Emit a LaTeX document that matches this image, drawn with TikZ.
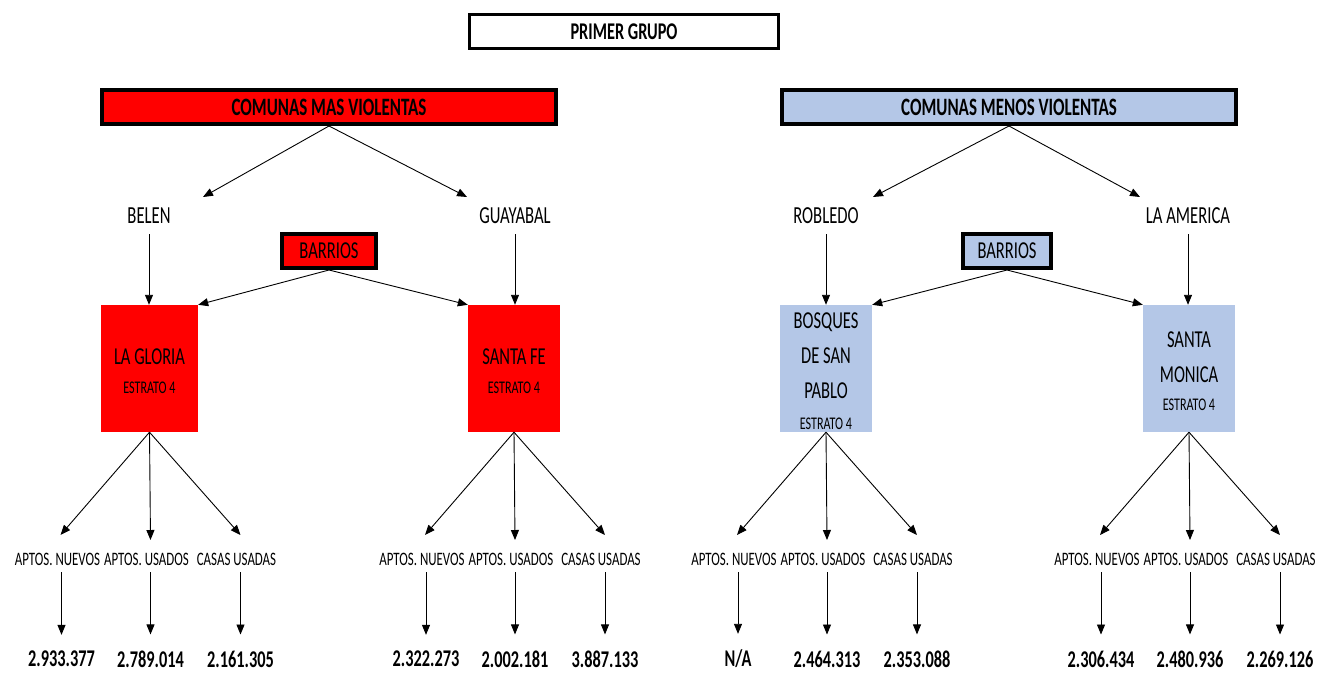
\documentclass[tikz,border=0pt]{standalone}
\usepackage{fontspec}
\setmainfont{Carlito}[FakeStretch=0.68]
\usetikzlibrary{arrows.meta}
\definecolor{rojo}{HTML}{FF0000}
\definecolor{azul}{HTML}{B4C7E7}
\newcommand{\fsize}[1]{\fontsize{#1}{#1}\selectfont}

\begin{document}
\begin{tikzpicture}[x=1pt, y=-1pt,
    flecha/.style={-{Triangle[length=10pt,width=8pt]}, line width=0.9pt},
    titulo/.style={draw, line width=3pt, fill=white, minimum width=309pt,
      minimum height=34pt, inner sep=0pt, font=\fsize{24}\bfseries},
    comuna/.style={draw, line width=4pt, minimum width=454pt,
      minimum height=34pt, inner sep=0pt, font=\fsize{25}\bfseries},
    barrio/.style={draw, line width=4pt, minimum height=34pt,
      inner sep=0pt, font=\fsize{24.3}},
    zona/.style={inner sep=1pt, font=\fsize{24.5}},
    caja/.style={minimum width=92pt, minimum height=127pt, inner sep=0pt,
      align=center, font=\fontsize{24.3}{35}\selectfont},
    tipo/.style={inner sep=0pt, font=\fsize{19}},
    valor/.style={inner sep=0pt, font=\fsize{24}\bfseries}]
  \newcommand{\estrato}{{\fsize{17.8}ESTRATO 4}}
  \newcommand{\alto}{\rule{0pt}{22pt}}

  \useasboundingbox (0,0) rectangle (1319,673);

  \node[titulo] (grupo) at (624,31.5) {PRIMER GRUPO};

  % comunas
  \node[comuna, fill=rojo] (mas) at (329,107) {COMUNAS MAS VIOLENTAS};
  \node[comuna, fill=azul] (menos) at (1009,107) {COMUNAS MENOS VIOLENTAS};

  \node[zona] (belen) at (149,216) {BELEN};
  \node[zona] (guayabal) at (515,216) {GUAYABAL};
  \node[zona] (robledo) at (826,216) {ROBLEDO};
  \node[zona] (america) at (1188,216) {LA AMERICA};

  \coordinate (t-belen) at (203,197);
  \coordinate (t-guayabal) at (467,197);
  \coordinate (t-robledo) at (873,197);
  \coordinate (t-america) at (1140,197);
  \draw[flecha] (mas.south) -- (t-belen);
  \draw[flecha] (mas.south) -- (t-guayabal);
  \draw[flecha] (menos.south) -- (t-robledo);
  \draw[flecha] (menos.south) -- (t-america);

  % barrios
  \node[barrio, fill=rojo, minimum width=94pt] (barrios1) at (329,251) {BARRIOS};
  \node[barrio, fill=azul, minimum width=88pt] (barrios2) at (1007,251) {BARRIOS};

  \node[caja, fill=rojo, minimum width=97pt] (gloria) at (149.5,368.5)
    {\alto LA GLORIA\\[-6pt]\estrato};
  \node[caja, fill=rojo] (santafe) at (514,368.5) {\alto SANTA FE\\[-6pt]\estrato};
  \node[caja, fill=azul] (bosques) at (826,368.5)
    {\alto BOSQUES\\DE SAN\\PABLO\\[-4pt]\estrato};
  \node[caja, fill=azul] (monica) at (1189,368.5)
    {\alto SANTA\\MONICA\\[-7pt]\estrato};

  \draw[flecha, shorten <=9pt] (belen.south) -- (belen.south |- gloria.north);
  \draw[flecha, shorten <=9pt] (guayabal.south) -- (guayabal.south |- santafe.north);
  \draw[flecha, shorten <=9pt] (robledo.south) -- (robledo.south |- bosques.north);
  \draw[flecha, shorten <=9pt] (america.south) -- (america.south |- monica.north);

  \draw[flecha] (barrios1.south) -- (gloria.north east);
  \draw[flecha] (barrios1.south) -- (santafe.north west);
  \draw[flecha] (barrios2.south) -- (bosques.north east);
  \draw[flecha] (barrios2.south) -- (monica.north west);

  % precios por tipo de vivienda
  \foreach \g/\cx/\va/\vb/\vc in {gloria/149.5/2.933.377/2.789.014/2.161.305,
      santafe/514/2.322.273/2.002.181/3.887.133,
      bosques/826/{N/A}/2.464.313/2.353.088,
      monica/1189/2.306.434/2.480.936/2.269.126}{
    \node[tipo] (\g-n) at (\cx-92,559) {APTOS. NUEVOS};
    \node[tipo] (\g-u) at (\cx-3,559) {APTOS. USADOS};
    \node[tipo] (\g-c) at (\cx+87,559) {CASAS USADAS};
    \node[valor] (\g-vn) at (\cx-88,659) {\va};
    \node[valor] (\g-vu) at (\cx+1,659) {\vb};
    \node[valor] (\g-vc) at (\cx+91,659) {\vc};
    \coordinate (\g-tn) at (\cx-89,535);
    \coordinate (\g-tu) at (\cx+1,540);
    \coordinate (\g-tc) at (\cx+91,535);
    \draw[flecha] (\g.south) -- (\g-tn);
    \draw[flecha] (\g.south) -- (\g-tu);
    \draw[flecha] (\g.south) -- (\g-tc);
    \draw[flecha, shorten <=7pt, shorten >=16pt] (\g-n.south -| \g-vn) -- (\g-vn.north);
    \draw[flecha, shorten <=7pt, shorten >=16pt] (\g-u.south -| \g-vu) -- (\g-vu.north);
    \draw[flecha, shorten <=7pt, shorten >=16pt] (\g-c.south -| \g-vc) -- (\g-vc.north);
  }
\end{tikzpicture}
\end{document}
